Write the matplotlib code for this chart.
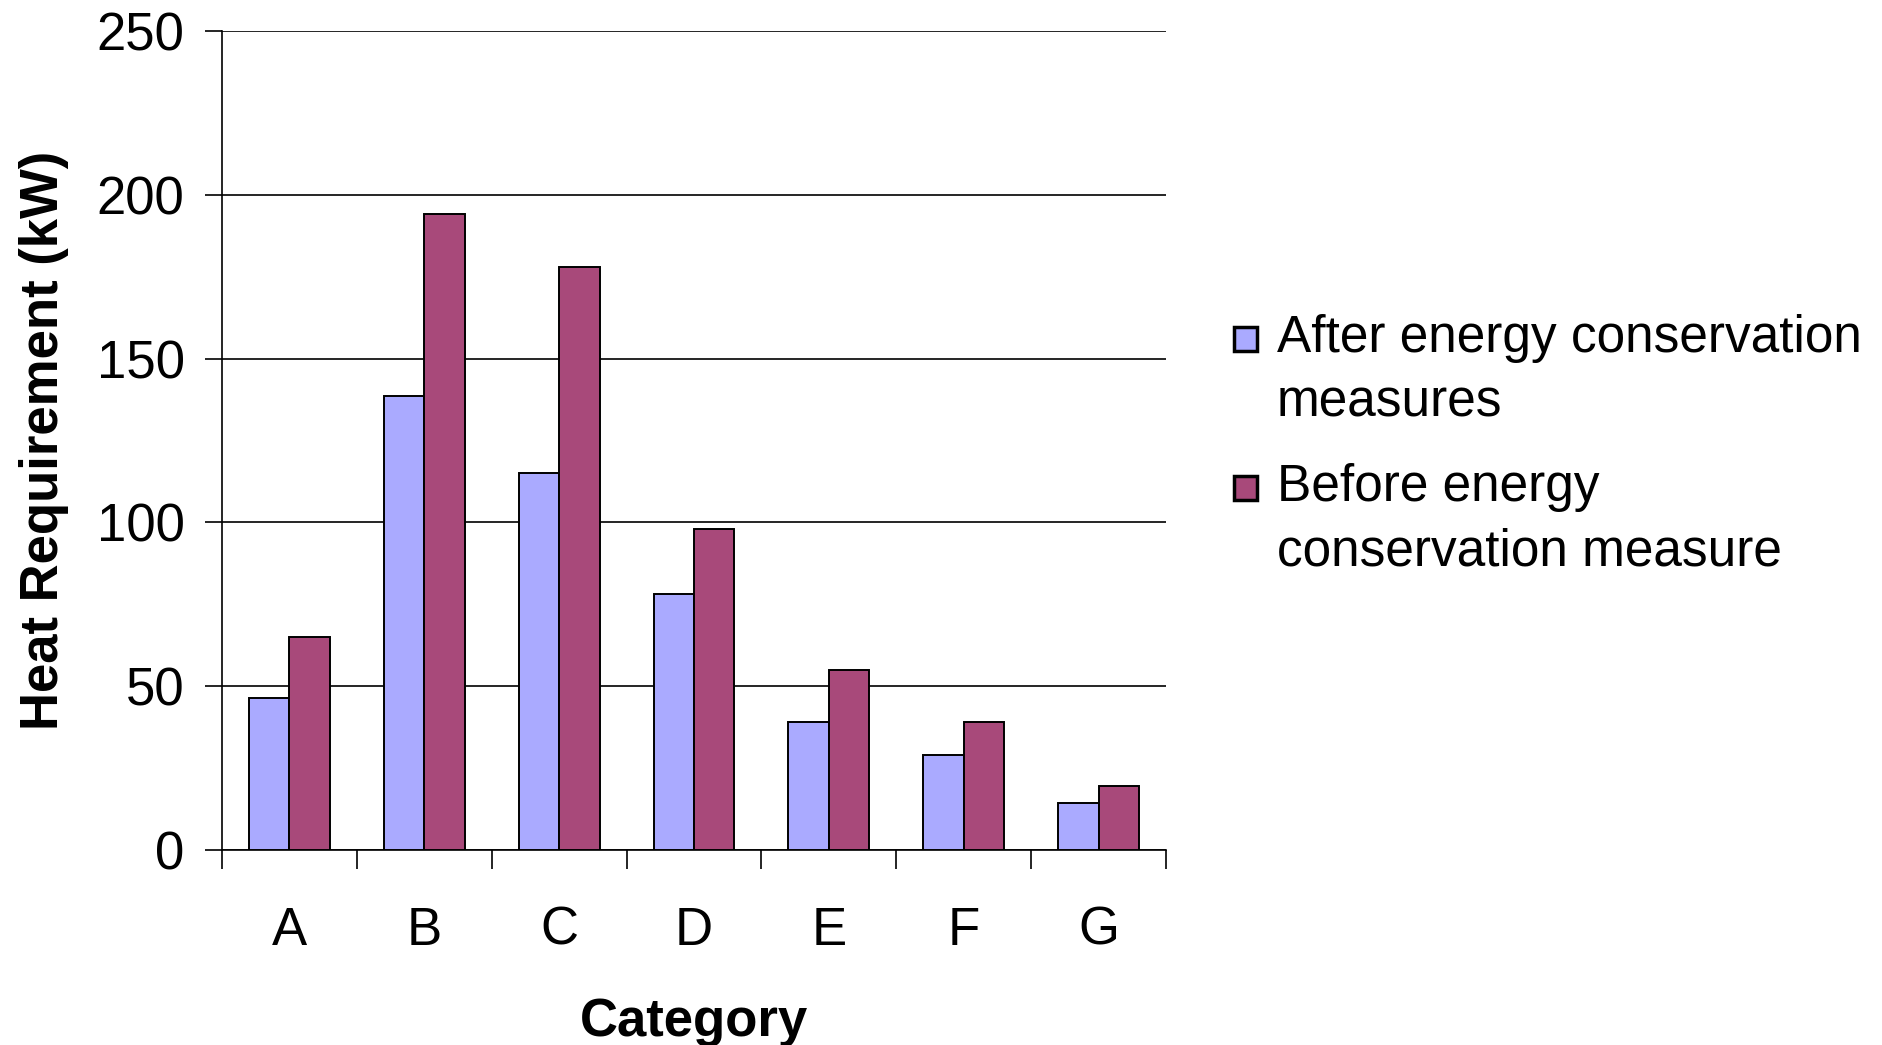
import matplotlib
matplotlib.use("Agg")
import matplotlib.pyplot as plt
from matplotlib.patches import Rectangle
import numpy as np

plt.rcParams['font.family'] = ['Liberation Sans', 'DejaVu Sans']

categories = ["A", "B", "C", "D", "E", "F", "G"]
after = [46.5, 138.5, 115, 78, 39, 29, 14.5]
before = [65, 194, 178, 98, 55, 39, 19.5]
labels = [["After energy conservation", "measures"],
          ["Before energy", "conservation measure"]]
colors = ["#AAAAFF", "#A8497A"]

W, H = 1883, 1045
fig = plt.figure(figsize=(W / 100, H / 100), dpi=100)
ax = fig.add_axes([0.1179, 0.1866, 0.5013, 0.7837])

x = np.arange(len(categories))
w = 0.3
ax.bar(x - w / 2, after, w, color=colors[0], edgecolor="black", linewidth=1.4, zorder=3)
ax.bar(x + w / 2, before, w, color=colors[1], edgecolor="black", linewidth=1.4, zorder=3)

ax.set_xlim(-0.5, len(categories) - 0.5)
ax.set_ylim(0, 250)
ax.set_yticks(range(0, 251, 50))
ax.yaxis.grid(True, color="black", linewidth=1.2, zorder=0)
ax.set_axisbelow(True)

# category labels sit between the boundary ticks
ax.set_xticks(np.arange(-0.5, len(categories)), minor=False)
ax.set_xticklabels([])
ax.set_xticks(x, minor=True)
ax.set_xticklabels(categories, minor=True)
ax.tick_params(axis="x", which="major", length=14, width=1.2, direction="out")
ax.tick_params(axis="x", which="minor", length=0, pad=40, labelsize=38)
ax.tick_params(axis="y", length=12, width=1.2, direction="out", labelsize=38, pad=15)

for s in ["top", "right"]:
    ax.spines[s].set_visible(False)
for s in ["left", "bottom"]:
    ax.spines[s].set_linewidth(1.2)

ax.set_xlabel("Category", fontsize=38, fontweight="bold", labelpad=30)
ax.set_ylabel("Heat Requirement (kW)", fontsize=38, fontweight="bold", labelpad=20)

# legend drawn by hand: marker next to the first line, text wraps below
entry_top = [339, 488]   # pixel y of first text line of each entry
line_gap = 64
for top, lab, c in zip(entry_top, labels, colors):
    fig.patches.append(Rectangle((1234 / W, 1 - (top + 12) / H), 23 / W, 24 / H,
                                 transform=fig.transFigure, facecolor=c,
                                 edgecolor="black", linewidth=2.5))
    for i, line in enumerate(lab):
        fig.text(1277 / W, 1 - (top + i * line_gap) / H, line, fontsize=37,
                 ha="left", va="center")

fig.savefig("out.png", dpi=100)
